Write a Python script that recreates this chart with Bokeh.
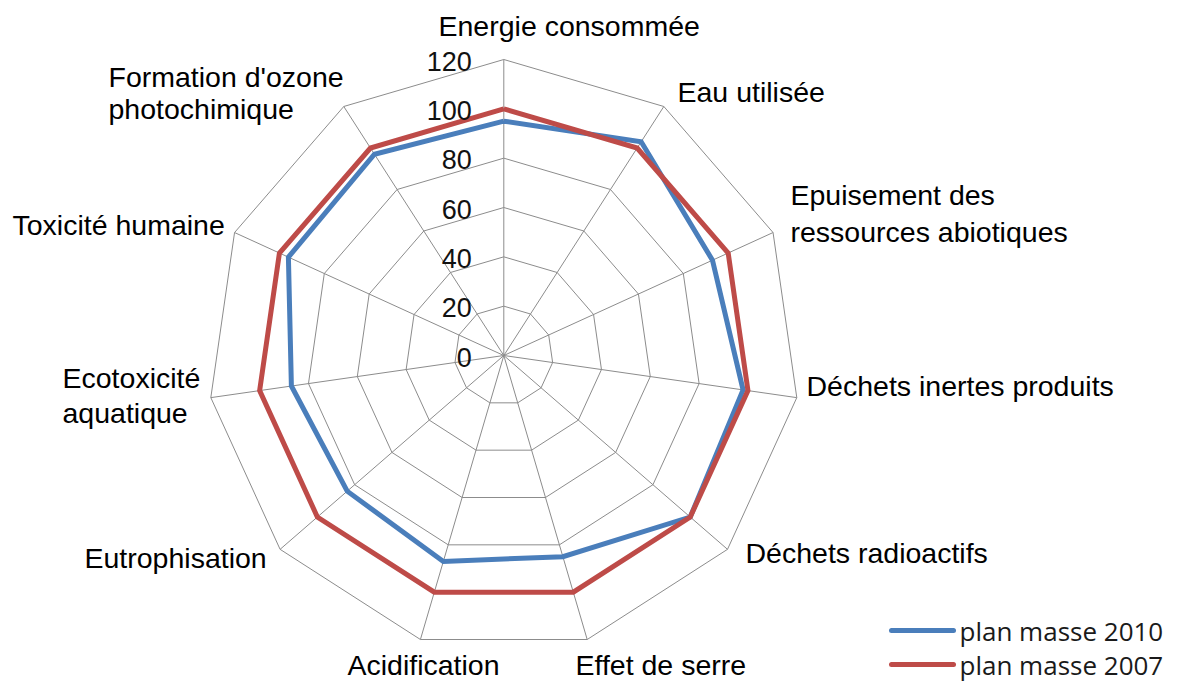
import numpy as np
from bokeh.plotting import figure
from bokeh.models import Range1d
from bokeh.core.properties import value
from bokeh.embed import file_html
from bokeh.resources import INLINE

# ---------------- data ----------------
categories = [
    "Energie consommée",
    "Eau utilisée",
    "Epuisement des\nressources abiotiques",
    "Déchets inertes produits",
    "Déchets radioactifs",
    "Effet de serre",
    "Acidification",
    "Eutrophisation",
    "Ecotoxicité\naquatique",
    "Toxicité humaine",
    "Formation d'ozone\nphotochimique",
]
plan_2010 = [95, 103, 93, 98, 100, 85, 87, 84, 87, 96, 97]
plan_2007 = [100, 100, 100, 100, 100, 100, 100, 100, 100, 100, 100]
ticks = [0, 20, 40, 60, 80, 100, 120]
series_names = ["plan masse 2010", "plan masse 2007"]

# ---------------- layout ----------------
W, H = 1169, 682
CX, CY = 503.3, 355.0          # radar centre (pixel coords)
R_MAX = 296.0                  # radius of the 120 ring
V_MAX = 120.0
label_pos = [                  # left x, centre y of first line
    (438, 25), (677, 91), (790, 194), (806, 385), (745, 552),
    (575, 664), (347, 664), (84, 557), (62, 377), (12, 224), (108, 76),
]
LINE_GAP = [0, 0, 37, 0, 0, 0, 0, 0, 35, 0, 32]
BLUE = "#4A7EBB"
RED = "#BE4B48"
GRID = "#8C8C8C"

p = figure(width=W, height=H, output_backend="svg", toolbar_location=None,
           x_range=Range1d(0, W), y_range=Range1d(H, 0),
           min_border=0)
p.axis.visible = False
p.grid.visible = False
p.outline_line_color = None
p.background_fill_color = "white"
p.border_fill_color = "white"

n = len(categories)
ang = np.arange(n) * 2 * np.pi / n


def to_xy(vals):
    r = np.asarray(vals, dtype=float) / V_MAX * R_MAX
    return CX + r * np.sin(ang), CY - r * np.cos(ang)


# rings
for t in ticks[1:]:
    x, y = to_xy([t] * n)
    p.line(list(x) + [x[0]], list(y) + [y[0]], line_color=GRID, line_width=1)
# spokes
xo, yo = to_xy([V_MAX] * n)
p.segment(x0=[CX] * n, y0=[CY] * n, x1=list(xo), y1=list(yo),
          line_color=GRID, line_width=1)

# series
for vals, col in ((plan_2010, BLUE), (plan_2007, RED)):
    x, y = to_xy(vals)
    p.line(list(x) + [x[0]], list(y) + [y[0]], line_color=col, line_width=5,
           line_join="miter")

# tick labels
tx, ty = [], []
for t in ticks:
    tx.append(CX - 32)
    ty.append(CY - t / V_MAX * R_MAX + 1.5)
p.text(x=tx, y=ty, text=[str(t) for t in ticks], text_align="right",
       text_baseline="middle", text_font=value("Liberation Sans"),
       text_font_size="27px", text_color="#111111")

# category labels
lx, ly, lt = [], [], []
for cat, (x0, y0), gap in zip(categories, label_pos, LINE_GAP):
    for i, line in enumerate(cat.split("\n")):
        lx.append(x0)
        ly.append(y0 + i * gap)
        lt.append(line)
p.text(x=lx, y=ly, text=lt, text_align="left", text_baseline="middle",
       text_font=value("Liberation Sans"), text_font_size="28.5px",
       text_color="#000000")

# legend
leg_y = [630, 664]
for name, col, yy in zip(series_names, (BLUE, RED), leg_y):
    p.segment(x0=[891], y0=[yy], x1=[953], y1=[yy], line_color=col,
              line_width=5, line_cap="round")
    p.text(x=[959], y=[yy], text=[name], text_align="left",
           text_baseline="middle", text_font=value("Open Sans"),
           text_font_size="26px", text_color="#1a1a1a")

open("out.html", "w").write(file_html(p, INLINE))
